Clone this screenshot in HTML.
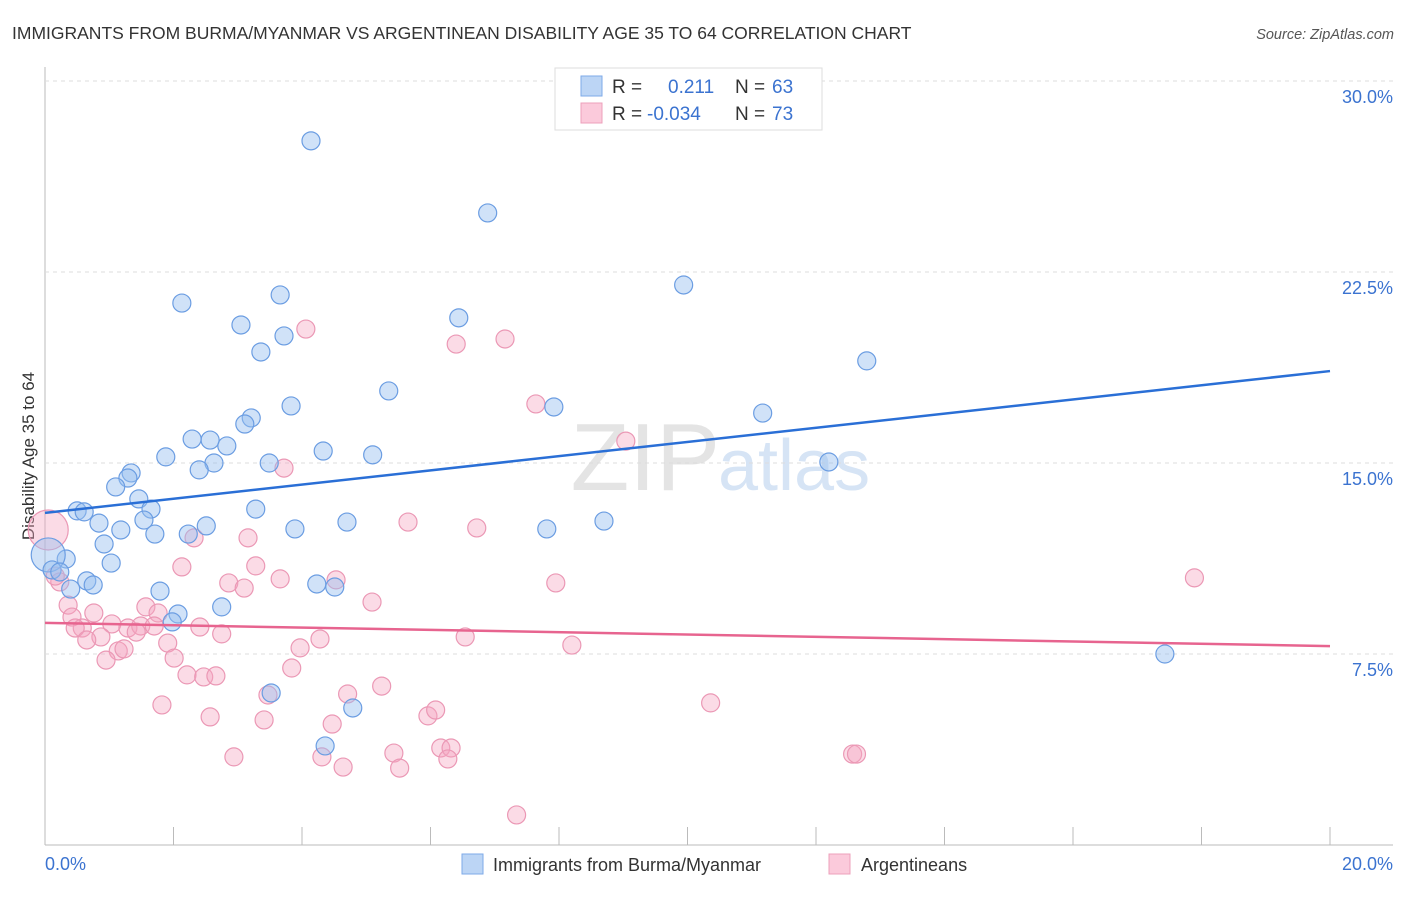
<!DOCTYPE html>
<html><head><meta charset="utf-8"><style>
body{margin:0;background:#fff;font-family:"Liberation Sans",sans-serif}
svg text{font-family:"Liberation Sans",sans-serif}
</style></head><body>
<svg id="c" width="1406" height="892" xmlns="http://www.w3.org/2000/svg">
<text x="12" y="39" font-size="17.5" fill="#333">IMMIGRANTS FROM BURMA/MYANMAR VS ARGENTINEAN DISABILITY AGE 35 TO 64 CORRELATION CHART</text>
<text x="1394" y="39" font-size="14.5" fill="#555" text-anchor="end" font-style="italic">Source: ZipAtlas.com</text>
<text x="720" y="490" font-size="96" fill="#e4e4e4" text-anchor="end" font-family="Liberation Serif">ZIP</text>
<text x="718" y="490" font-size="72" fill="#d6e4f5">atlas</text>
<text transform="translate(34,456) rotate(-90)" font-size="17" fill="#333" text-anchor="middle">Disability Age 35 to 64</text>
<g id="grid"></g><g id="pts"></g><g id="lines"></g>
<rect x="555" y="68" width="267" height="62" fill="#fff" stroke="#ddd"/>
<rect x="581" y="76" width="21" height="20" fill="#bcd5f5" stroke="#7eaae8"/>
<rect x="581" y="103" width="21" height="20" fill="#fbcadb" stroke="#eda0bb"/>
<text y="93" font-size="19"><tspan x="612" fill="#333">R =</tspan><tspan x="668" fill="#3b73d0">0.211</tspan><tspan x="735" fill="#333">N =</tspan><tspan x="772" fill="#3b73d0">63</tspan></text>
<text y="120" font-size="19"><tspan x="612" fill="#333">R =</tspan><tspan x="647" fill="#3b73d0">-0.034</tspan><tspan x="735" fill="#333">N =</tspan><tspan x="772" fill="#3b73d0">73</tspan></text>
<rect x="462" y="854" width="21" height="20" fill="#bcd5f5" stroke="#7eaae8"/>
<text x="493" y="871" font-size="18" fill="#333">Immigrants from Burma/Myanmar</text>
<rect x="829" y="854" width="21" height="20" fill="#fbcadb" stroke="#eda0bb"/>
<text x="861" y="871" font-size="18" fill="#333">Argentineans</text>
</svg>
<script>
const xTicks=[0,2,4,6,8,10,12,14,16,18,20];
const yTicks=[7.5,15,22.5,30];
const yTickLabels=["7.5%","15.0%","22.5%","30.0%"];
const xEndLabels=["0.0%","20.0%"];
const blueX=[4.14,6.89,9.94,2.13,3.66,6.44,3.05,3.72,3.36,12.79,5.35,3.83,7.92,11.17,3.21,3.11,2.29,2.57,2.83,1.88,4.33,5.10,3.49,2.63,2.40,1.34,1.29,1.10,1.46,12.20,0.50,0.61,1.65,3.28,1.54,0.84,8.70,4.70,1.18,1.71,2.23,2.51,3.89,7.81,0.92,0.33,1.03,0.05,0.11,0.23,0.65,0.75,0.40,1.79,4.23,4.51,2.75,2.07,1.98,3.52,4.79,4.36,17.43];
const blueY=[27.65,24.82,21.99,21.28,21.60,20.70,20.42,19.99,19.36,19.01,17.83,17.24,17.20,16.96,16.77,16.53,15.94,15.90,15.67,15.24,15.47,15.32,15.00,15.00,14.73,14.61,14.41,14.06,13.59,15.04,13.12,13.08,13.19,13.19,12.76,12.64,12.72,12.68,12.37,12.21,12.21,12.53,12.41,12.41,11.82,11.23,11.07,11.39,10.80,10.72,10.37,10.21,10.05,9.97,10.25,10.13,9.35,9.07,8.76,5.97,5.38,3.89,7.50];
const pinkX=[4.06,7.16,6.40,7.64,9.04,3.72,5.65,6.72,2.32,3.16,17.89,2.13,3.28,3.66,4.53,2.86,3.10,7.95,0.23,0.16,0.05,0.36,0.76,1.57,1.76,5.09,0.42,1.04,1.29,1.49,1.70,0.58,0.47,2.41,1.42,1.91,2.75,0.87,0.65,4.28,6.54,8.20,3.97,2.01,1.14,1.23,0.95,3.84,2.21,2.47,2.66,5.24,4.71,3.47,1.82,2.57,3.41,4.47,5.96,6.08,10.36,2.94,4.31,5.43,4.64,5.52,6.16,6.32,6.27,12.57,12.63,7.34];
const pinkY=[20.26,19.87,19.67,17.32,15.86,14.80,12.68,12.45,12.06,12.06,10.49,10.92,10.96,10.45,10.41,10.29,10.09,10.29,10.33,10.56,12.37,9.42,9.11,9.35,9.11,9.54,8.95,8.68,8.52,8.60,8.60,8.52,8.52,8.56,8.36,7.93,8.29,8.17,8.05,8.09,8.17,7.85,7.74,7.34,7.62,7.70,7.26,6.95,6.68,6.60,6.64,6.24,5.93,5.89,5.50,5.03,4.91,4.75,5.07,5.30,5.58,3.46,3.46,3.61,3.06,3.02,3.81,3.81,3.38,3.57,3.57,1.18];
const blueTrend=[13.04,18.61];
const pinkTrend=[8.72,7.81];
const NS="http://www.w3.org/2000/svg";
const sx=v=>45+v/20*1285, sy=v=>845-v/7.5*191;
function mk(t,p,a){const e=document.createElementNS(NS,t);for(const k in a)e.setAttribute(k,a[k]);p.appendChild(e);return e;}
const grid=document.getElementById('grid');
let ax=mk('line',grid,{x1:45,y1:67,x2:45,y2:845,stroke:'#bbb'});


let bx=mk('line',grid,{x1:45,y1:845,x2:1393,y2:845,stroke:'#bbb'});


yTicks.forEach((v,i)=>{
 const g=mk('line',grid,{x1:45,x2:1393,y1:sy(v),y2:sy(v),stroke:'#ddd','stroke-dasharray':'4,4'});
 
 
 const t=mk('text',grid,{x:1393,y:sy(v)+22,'font-size':18,fill:'#3b73d0','text-anchor':'end'});
 t.textContent=yTickLabels[i];
 
 
});
xTicks.forEach(v=>{
 const l=mk('line',grid,{x1:sx(v),x2:sx(v),y1:827,y2:845,stroke:'#bbb'});
 
 
});
const t0=mk('text',grid,{x:45,y:870,'font-size':18,fill:'#3b73d0'});t0.textContent=xEndLabels[0];


const t1=mk('text',grid,{x:1393,y:870,'font-size':18,fill:'#3b73d0','text-anchor':'end'});t1.textContent=xEndLabels[1];


const pts=document.getElementById('pts');
function draw(xs,ys,fill,stroke,name,bigIdx,bigR){
 xs.forEach((x,i)=>{
  const c=mk('circle',pts,{cx:sx(x),cy:sy(ys[i]),r:i===bigIdx?bigR:9,fill:fill,stroke:stroke,'stroke-width':1.2});
  
  
 });
}
draw(pinkX,pinkY,'rgba(245,165,192,0.4)','#eb98b5','point-argentineans',20,20);
draw(blueX,blueY,'rgba(150,190,240,0.45)','#6b9de2','point-burma',47,17);
const lines=document.getElementById('lines');
const bl=mk('line',lines,{x1:sx(0),y1:sy(blueTrend[0]),x2:sx(20),y2:sy(blueTrend[1]),stroke:'#2a6fd6','stroke-width':2.5});


const pl=mk('line',lines,{x1:sx(0),y1:sy(pinkTrend[0]),x2:sx(20),y2:sy(pinkTrend[1]),stroke:'#e7648f','stroke-width':2.5});


</script>
</body></html>
